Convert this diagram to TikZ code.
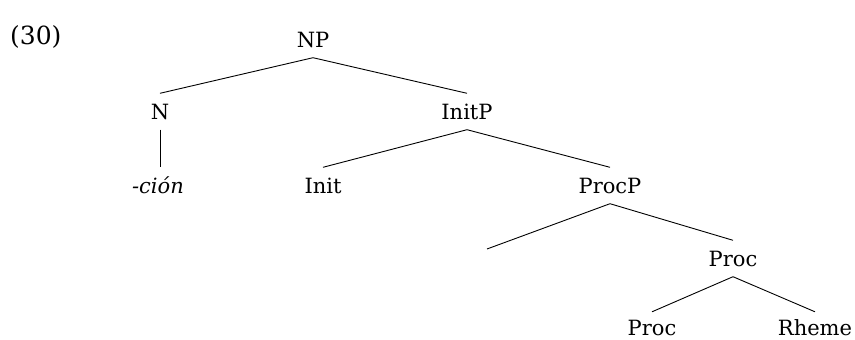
\documentclass[tikz,border=0pt]{standalone}
\usepackage{fontspec}
\setmainfont{DejaVu Serif}
\usetikzlibrary{calc}
\begin{document}
\begin{tikzpicture}[x=1pt,y=-1pt,
  lbl/.style={anchor=base, font=\fontsize{21}{25}\selectfont, inner xsep=0pt, inner ysep=10.5pt, text height=15pt, text depth=0pt},
  leaf/.style={lbl, inner ysep=0.5pt},
  edge/.style={line width=0.9pt}]
\useasboundingbox (0,0) rectangle (855,340);
\node[anchor=base west, font=\fontsize{25}{29}\selectfont, inner sep=0pt] (ex) at (10,44) {(30)};
\node[lbl] (np) at (313,47) {NP};
\node[lbl] (n) at (160,119) {N};
\node[lbl] (cion) at (158,193) {\itshape -ción};
\node[lbl] (initp) at (467,119) {InitP};
\node[lbl] (init) at (323,193) {Init};
\node[lbl] (procp) at (610,193) {ProcP};
\coordinate (e) at (487,249);
\node[lbl] (proc) at (733,266) {Proc};
\node[leaf] (procl) at (652,335) {Proc};
\node[leaf] (rheme) at (815,335) {Rheme};
\draw[edge] (np.south) -- (n.north);
\draw[edge] (np.south) -- (initp.north);
\draw[edge] (n.south) -- (n.south |- cion.north);
\draw[edge] (initp.south) -- (init.north);
\draw[edge] (initp.south) -- (procp.north);
\draw[edge] (procp.south) -- (e);
\draw[edge] (procp.south) -- (proc.north);
\draw[edge] (proc.south) -- ($(procl.north)+(0,-7.5)$);
\draw[edge] (proc.south) -- ($(rheme.north)+(0,-7.5)$);
\end{tikzpicture}
\end{document}
